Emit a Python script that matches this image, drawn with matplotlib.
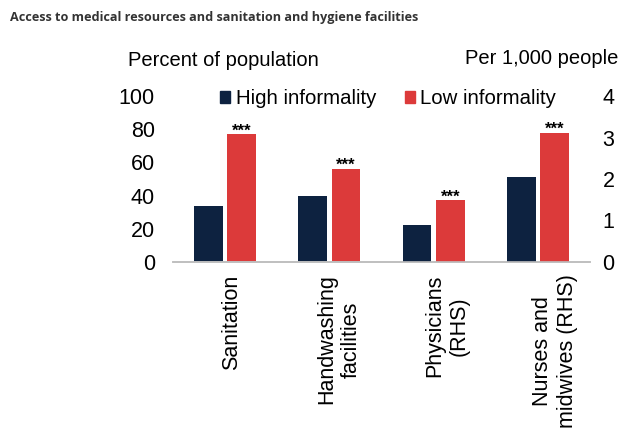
import matplotlib.pyplot as plt
from matplotlib.patches import Patch
from matplotlib.transforms import ScaledTranslation

# data
categories = ['Sanitation', 'Handwashing\nfacilities', 'Physicians\n(RHS)', 'Nurses and\nmidwives (RHS)']
high_lhs = [34, 40]          # percent of population
low_lhs = [77, 56]
high_rhs = [0.89, 2.04]      # per 1,000 people
low_rhs = [1.49, 3.12]
left_ticks = [0, 20, 40, 60, 80, 100]
right_ticks = [0, 1, 2, 3, 4]

navy = '#0d2240'
red = '#dc3a3a'
plt.rcParams['font.family'] = ['Liberation Sans', 'DejaVu Sans']

fig = plt.figure(figsize=(6.42, 4.30), dpi=100)
ax = fig.add_axes([173 / 642, 168 / 430, 417 / 642, 166 / 430])
ax2 = ax.twinx()

w = 0.275
off = 0.16
x_lhs = [0, 1]
x_rhs = [2, 3]
ax.bar([x - off for x in x_lhs], high_lhs, w, color=navy)
bl = ax.bar([x + off for x in x_lhs], low_lhs, w, color=red)
ax2.bar([x - off for x in x_rhs], high_rhs, w, color=navy)
br = ax2.bar([x + off for x in x_rhs], low_rhs, w, color=red)

# significance stars just above the low-informality bars
for a, bars in ((ax, bl), (ax2, br)):
    for b in bars:
        a.annotate('***', (b.get_x() + b.get_width() / 2, b.get_height()),
                   xytext=(0, -3), textcoords='offset points',
                   ha='center', va='bottom', fontsize=12, fontweight='bold')

ax.set_xlim(-0.5, 3.5)
ax.set_ylim(0, 100)
ax2.set_ylim(0, 4)
ax.set_yticks(left_ticks)
ax2.set_yticks(right_ticks)
ax.tick_params(axis='y', length=0, pad=13, labelsize=15.5)
ax2.tick_params(axis='y', length=0, pad=9, labelsize=15.5)
ax.set_xticks(range(len(categories)))
ax.set_xticklabels(categories, rotation=90, fontsize=15.5, linespacing=1.2)
ax.tick_params(axis='x', length=0, pad=9)
# labels in the source drift slightly right of the bar groups
for i, t in enumerate(ax.get_xticklabels()):
    t.set_multialignment('center')
    dx = (6 + 3.7 * i) / 100
    t.set_transform(t.get_transform() + ScaledTranslation(dx, 0, fig.dpi_scale_trans))

for a in (ax, ax2):
    for s in ('top', 'left', 'right'):
        a.spines[s].set_visible(False)
    a.spines['bottom'].set_color('#bfbfbf')
    a.spines['bottom'].set_linewidth(1.2)

fig.text(10 / 642, 1 - 18 / 430, 'Access to medical resources and sanitation and hygiene facilities',
         family=['Open Sans', 'DejaVu Sans'], fontweight='bold', fontsize=9.1,
         color='#333333', va='center', ha='left')
fig.text(128 / 642, 1 - 61 / 430, 'Percent of population', fontsize=14.5, va='center', ha='left')
fig.text(465 / 642, 1 - 59 / 430, 'Per 1,000 people', fontsize=14.5, va='center', ha='left')

handles = [Patch(color=navy, label='High informality'), Patch(color=red, label='Low informality')]
fig.legend(handles=handles, ncol=2, loc='center', bbox_to_anchor=(388 / 642, 1 - 99 / 430),
           frameon=False, fontsize=14.7, handlelength=0.5, handleheight=0.5,
           handletextpad=0.25, columnspacing=1.4, borderpad=0)

fig.savefig('out.png', dpi=100)
